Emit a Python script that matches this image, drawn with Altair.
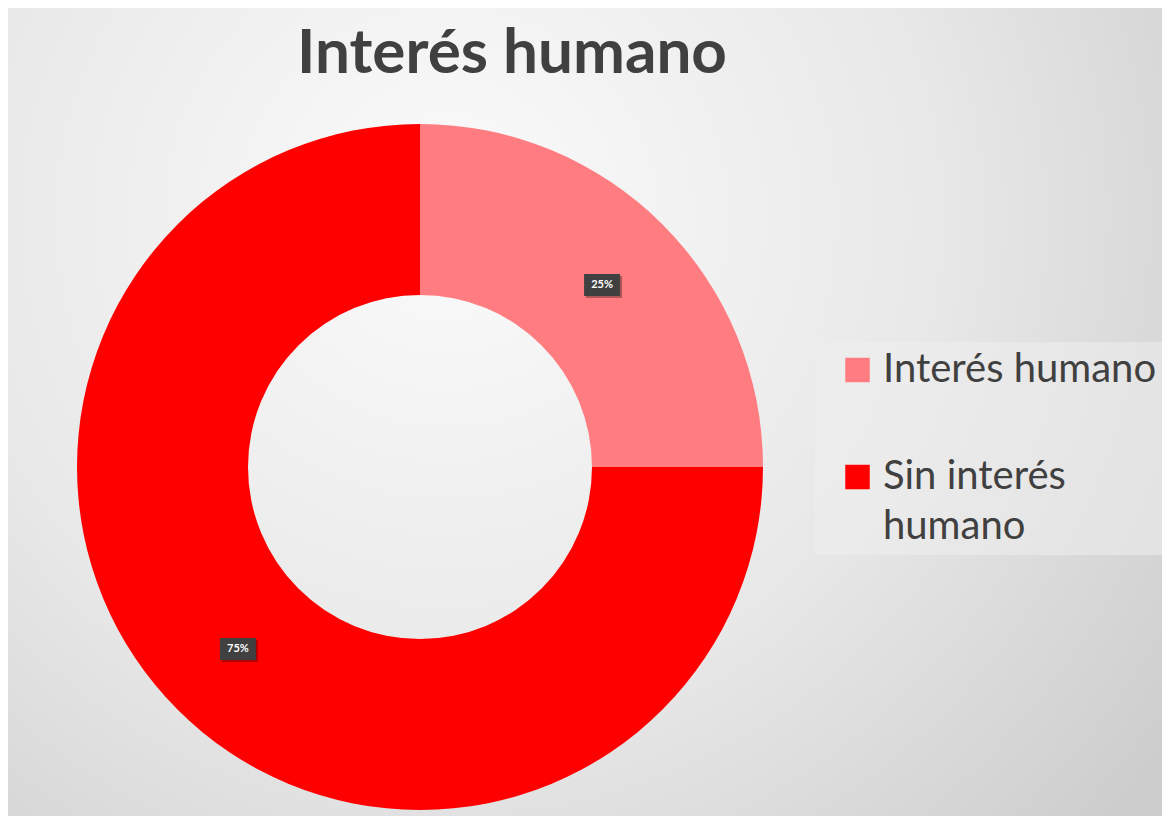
import altair as alt
import pandas as pd

# ---- data ----
categories = ["Interés humano", "Sin interés humano"]
values = [25, 75]
colors = ["#FF7C80", "#FF0000"]
title_text = "Interés humano"

# ---- layout (chart coordinates; page margin 8px) ----
W, H = 1154, 808
CX, CY = 412, 459
R_OUT, R_IN = 343, 172
R_LAB = (R_OUT + R_IN) / 2
LEG_X, LEG_Y0, LEG_STEP = 849.5, 362, 107

df = pd.DataFrame({"categoria": categories, "valor": values,
                   "orden": list(range(len(categories)))})
one = pd.DataFrame({"a": [0]})

bg = alt.Chart(one).mark_rect(
    fill={"gradient": "radial", "x1": 0.38, "y1": 0.33, "x2": 0.38, "y2": 0.33,
          "r1": 0, "r2": 0.78,
          "stops": [{"offset": 0, "color": "#fbfbfb"},
                    {"offset": 0.55, "color": "#e8e8e8"},
                    {"offset": 1, "color": "#cdcdcd"}]}
).encode(x=alt.value(0), x2=alt.value(W), y=alt.value(0), y2=alt.value(H))

legend_box = alt.Chart(one).mark_rect(fill="#efefef", opacity=0.55).encode(
    x=alt.value(807), x2=alt.value(W), y=alt.value(334), y2=alt.value(547))

title = alt.Chart(one).mark_text(
    text=title_text, font="Lato", fontWeight="bold", fontSize=62,
    color="#404040", align="center", baseline="alphabetic"
).encode(x=alt.value(504), y=alt.value(65))

base = alt.Chart(df)
color_scale = alt.Scale(domain=categories, range=colors)

arcs = base.mark_arc(outerRadius=R_OUT, innerRadius=R_IN).encode(
    theta=alt.Theta("valor:Q", stack=True),
    order=alt.Order("orden:Q"),
    color=alt.Color("categoria:N", scale=color_scale, legend=None),
    x=alt.value(CX), y=alt.value(CY),
)

pos = (
    base.transform_joinaggregate(total="sum(valor)")
    .transform_window(cum="sum(valor)", sort=[alt.SortField("orden")], frame=[None, 0])
    .transform_calculate(ang="2*PI*(datum.cum - datum.valor/2)/datum.total")
    .transform_calculate(px=f"{CX} + {R_LAB}*sin(datum.ang)")
    .transform_calculate(py=f"{CY} - {R_LAB}*cos(datum.ang)")
    .transform_calculate(pct="format(datum.valor/datum.total, '.0%')")
    .transform_calculate(bx1="datum.px - 18", bx2="datum.px + 18",
                         by1="datum.py - 11", by2="datum.py + 11")
    .transform_calculate(sx1="datum.bx1 + 2", sx2="datum.bx2 + 2",
                         sy1="datum.by1 + 2", sy2="datum.by2 + 2")
)

shadow = pos.mark_rect(color="#000000", opacity=0.3).encode(
    x=alt.X("sx1:Q", scale=None), x2="sx2:Q",
    y=alt.Y("sy1:Q", scale=None), y2="sy2:Q")

box = pos.mark_rect(color="#404040").encode(
    x=alt.X("bx1:Q", scale=None), x2="bx2:Q",
    y=alt.Y("by1:Q", scale=None), y2="by2:Q")

labels = pos.mark_text(color="white", font="Lato", fontWeight="bold",
                       fontSize=11, align="center", baseline="middle").encode(
    x=alt.X("px:Q", scale=None), y=alt.Y("py:Q", scale=None), text="pct:N")

# ---- legend built from the same categories ----
leg = (
    base.transform_calculate(ly=f"{LEG_Y0} + datum.orden*{LEG_STEP}")
    .transform_calculate(ty="datum.ly + 12")
    .transform_calculate(lx=f"{LEG_X}")
    .transform_calculate(tx=f"{LEG_X} + 25.5")
    .transform_calculate(
        lab="datum.categoria == 'Sin interés humano' ? ['Sin interés', 'humano'] : datum.categoria")
)
leg_sym = leg.mark_square(size=600, opacity=1, strokeWidth=0).encode(
    x=alt.X("lx:Q", scale=None), y=alt.Y("ly:Q", scale=None),
    color=alt.Color("categoria:N", scale=color_scale, legend=None))
leg_txt = leg.mark_text(font="Lato", fontSize=40, color="#404040", align="left",
                        baseline="alphabetic", lineHeight=50).encode(
    x=alt.X("tx:Q", scale=None), y=alt.Y("ty:Q", scale=None), text="lab:N")

chart = alt.layer(bg, legend_box, title, arcs, shadow, box, labels,
                  leg_sym, leg_txt).properties(
    width=W, height=H, padding=0,
    autosize=alt.AutoSizeParams(type="fit", contains="padding"),
).configure_view(stroke=None)

chart.save("out.html", embed_options={"renderer": "svg", "actions": False})
